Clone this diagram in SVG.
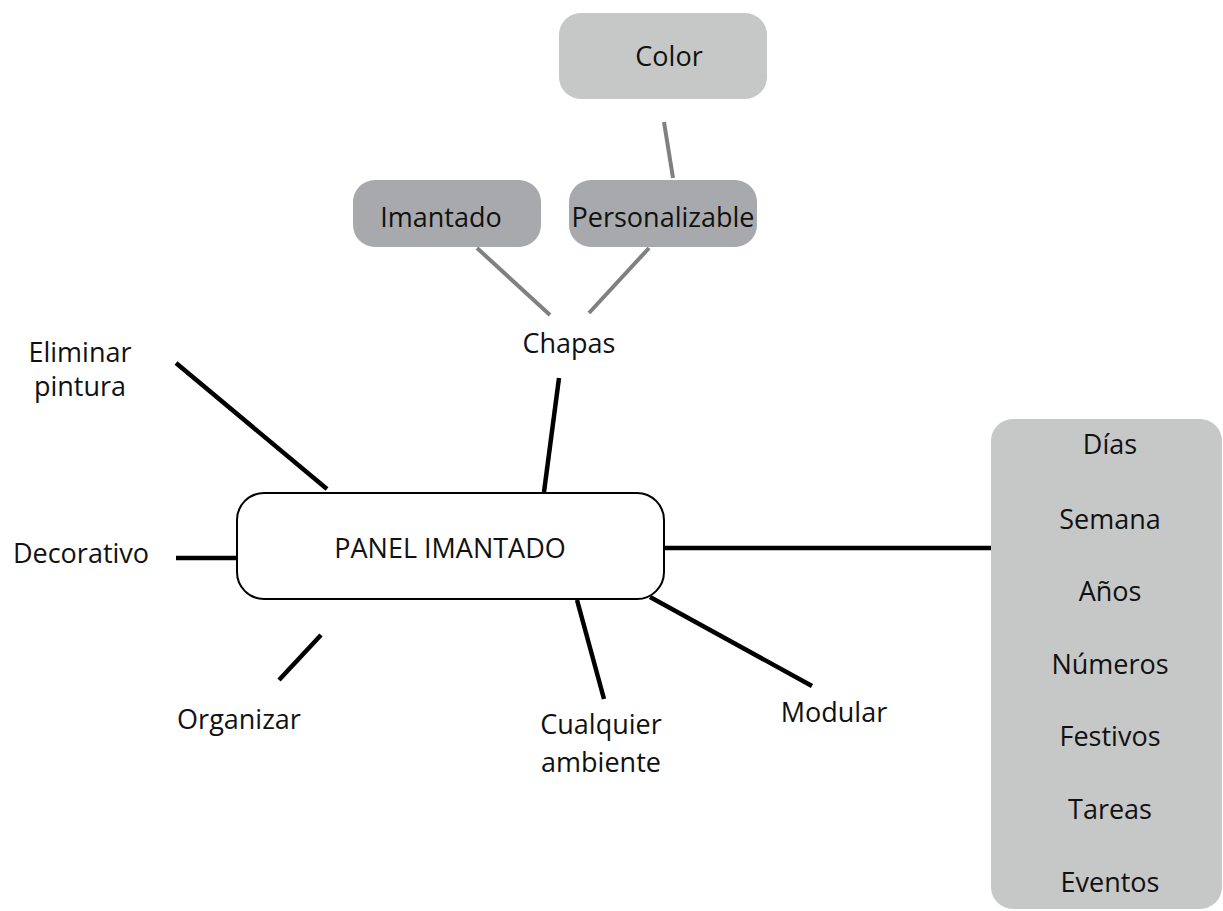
<svg xmlns="http://www.w3.org/2000/svg" width="1223" height="911" viewBox="0 0 1223 911">
<style>
text{font-family:"Open Sans","Noto Sans","Liberation Sans",sans-serif;font-size:27px;fill:#111;text-anchor:middle}
.light{fill:#c6c7c7}
.dark{fill:#a7a9ac}
.k{stroke:#000;stroke-width:4.5;fill:none}
.g{stroke:#7f8080;stroke-width:4;fill:none}
</style>
<rect width="1223" height="911" fill="#fff"/>
<g id="connectors">
<line class="g" x1="664" y1="122" x2="673" y2="178"/>
<line class="g" x1="477" y1="248" x2="550" y2="315"/>
<line class="g" x1="649" y1="248" x2="589" y2="313"/>
<line class="k" x1="559" y1="378" x2="544" y2="492"/>
<line class="k" x1="176" y1="363" x2="327" y2="489"/>
<line class="k" x1="176" y1="558" x2="237" y2="558"/>
<line class="k" x1="321" y1="635" x2="279" y2="680"/>
<line class="k" x1="577" y1="600" x2="604" y2="699"/>
<line class="k" x1="650" y1="597" x2="812" y2="686"/>
<line class="k" x1="664" y1="548" x2="991" y2="548"/>
</g>
<g id="color"><rect class="light" x="559" y="13" width="208" height="86" rx="22"/><text x="669" y="66">Color</text></g>
<g id="imantado"><rect class="dark" x="353" y="180" width="188" height="67" rx="22"/><text x="441" y="227">Imantado</text></g>
<g id="personalizable"><rect class="dark" x="569" y="180" width="188" height="67" rx="22"/><text x="663" y="227">Personalizable</text></g>
<g id="chapas"><text x="569" y="353">Chapas</text></g>
<g id="eliminar"><text x="80" y="362">Eliminar</text><text x="80" y="396">pintura</text></g>
<g id="decorativo"><text x="81" y="563">Decorativo</text></g>
<g id="panel"><rect x="237" y="493" width="427" height="106" rx="27" fill="#fff" stroke="#000" stroke-width="2"/><text x="450" y="558">PANEL IMANTADO</text></g>
<g id="organizar"><text x="239" y="729">Organizar</text></g>
<g id="cualquier"><text x="601" y="734">Cualquier</text><text x="601" y="772">ambiente</text></g>
<g id="modular"><text x="834" y="722">Modular</text></g>
<g id="lista">
<rect class="light" x="991" y="419" width="231" height="490" rx="22"/>
<text x="1110" y="454">Días</text>
<text x="1110" y="529">Semana</text>
<text x="1110" y="601">Años</text>
<text x="1110" y="674">Números</text>
<text x="1110" y="746">Festivos</text>
<text x="1110" y="819">Tareas</text>
<text x="1110" y="892">Eventos</text>
</g>
</svg>
